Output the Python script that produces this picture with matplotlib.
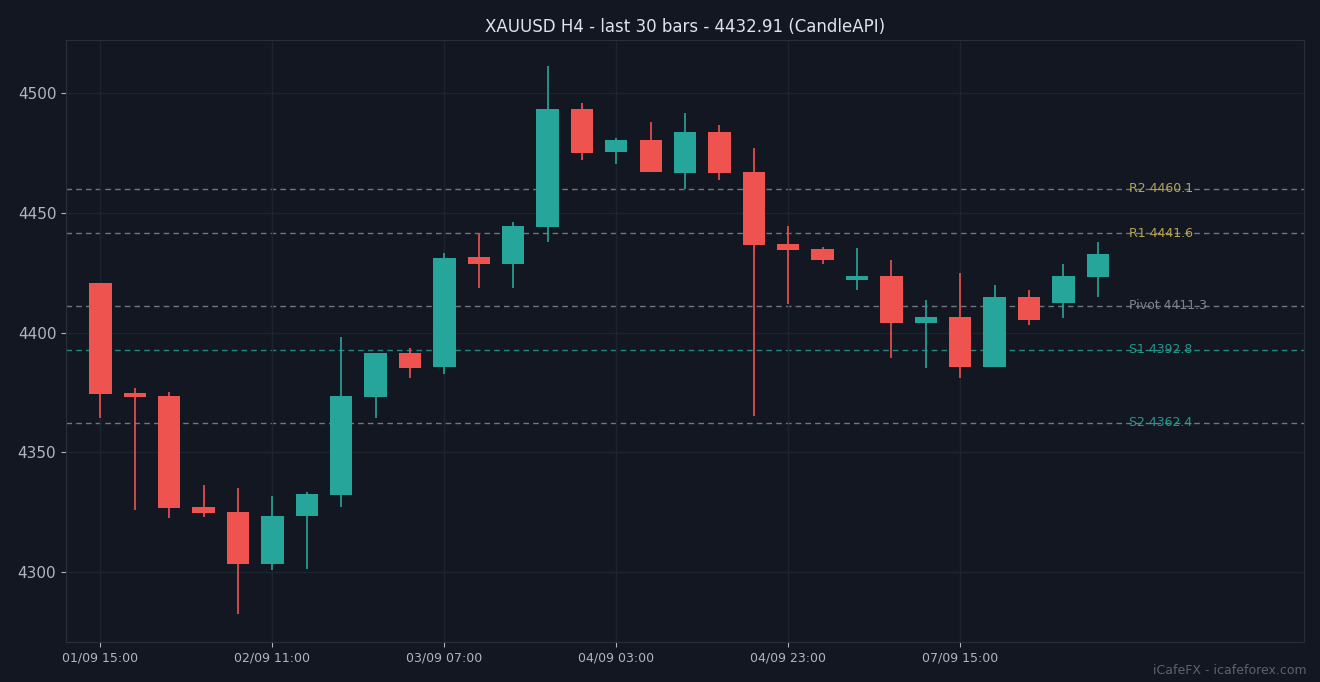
import matplotlib
matplotlib.use("Agg")
import matplotlib.pyplot as plt

opens  = [4420.7,4374.7,4373.5,4327.1,4325.1,4303.3,4323.4,4332.2,4373.1,4391.4,4385.6,4431.5,4428.6,4444.1,4493.3,4475.4,4480.4,4466.6,4483.7,4467.0,4436.9,4434.9,4421.9,4423.6,4404.0,4406.5,4385.6,4414.8,4412.3,4423.2]
closes = [4374.3,4373.1,4326.7,4324.6,4303.3,4323.4,4332.6,4373.5,4391.4,4385.2,4431.1,4428.6,4444.5,4493.3,4474.9,4480.4,4467.0,4483.7,4466.6,4436.5,4434.4,4430.3,4423.6,4404.0,4406.5,4385.6,4414.8,4405.2,4423.6,4432.91]
highs  = [4420.7,4376.8,4375.2,4336.3,4335.1,4331.7,4333.4,4398.1,4391.4,4393.5,4433.2,4441.1,4446.1,4511.3,4495.8,4481.2,4487.9,4491.6,4486.6,4477.0,4444.5,4435.7,4435.3,4430.3,4413.6,4424.8,4419.8,4417.7,4428.6,4437.8]
lows   = [4364.3,4325.9,4322.5,4323.0,4282.5,4300.8,4301.2,4327.1,4364.3,4381.0,4382.7,4418.6,4418.6,4437.8,4472.0,4470.4,4467.0,4459.9,4463.7,4365.1,4411.9,4428.6,4417.7,4389.4,4385.2,4381.0,4385.6,4403.1,4406.1,4414.8]
tick_idx = [0,5,10,15,20,25]
tick_labels = ["01/09 15:00","02/09 11:00","03/09 07:00","04/09 03:00","04/09 23:00","07/09 15:00"]
level_names = ["R2","R1","Pivot","S1","S2"]
level_vals = [4460.1,4441.6,4411.3,4392.8,4362.4]
level_colors = ["#c9b458","#c9b458","#8a8f98","#26a69a","#26a69a"]

BG = "#131722"; UP = "#26a69a"; DN = "#ef5350"
fig = plt.figure(figsize=(13.2,6.82), dpi=100, facecolor=BG)
ax = fig.add_axes([0.05,0.0587,0.938,0.882], facecolor=BG)
for i,(o,c,h,l) in enumerate(zip(opens,closes,highs,lows)):
    col = UP if c >= o else DN
    ax.vlines(i, l, h, color=col, lw=1.2, zorder=2)
    ax.bar(i, max(abs(c-o),0.8), bottom=min(o,c), width=0.65, color=col, zorder=3)
for n,v,cl in zip(level_names,level_vals,level_colors):
    ax.axhline(v, color="#8a8f98" if n!="S1" else "#26a69a", ls=(0,(4,3)), lw=1, alpha=0.8, zorder=1)
    ax.text(29.9, v, f"{n} {v}", color=cl, fontsize=9, va="center", ha="left", alpha=0.9)
ax.set_xlim(-1,35); ax.set_ylim(4270.8,4522.1)
ax.set_xticks(tick_idx); ax.set_xticklabels(tick_labels)
ax.set_yticks([4300,4350,4400,4450,4500])
ax.tick_params(axis='x', colors="#b2b5be", labelsize=9)
ax.tick_params(axis='y', colors="#b2b5be", labelsize=11)
ax.grid(True, color="#1e2330", lw=1)
for s in ax.spines.values(): s.set_color("#2a2e39")
ax.set_title("XAUUSD H4 - last 30 bars - 4432.91 (CandleAPI)", color="#e0e3eb", fontsize=12)
fig.text(0.99, 0.008, "iCafeFX - icafeforex.com", color="#5d6270", fontsize=9, ha="right", va="bottom")
fig.savefig("out.png", facecolor=BG)
